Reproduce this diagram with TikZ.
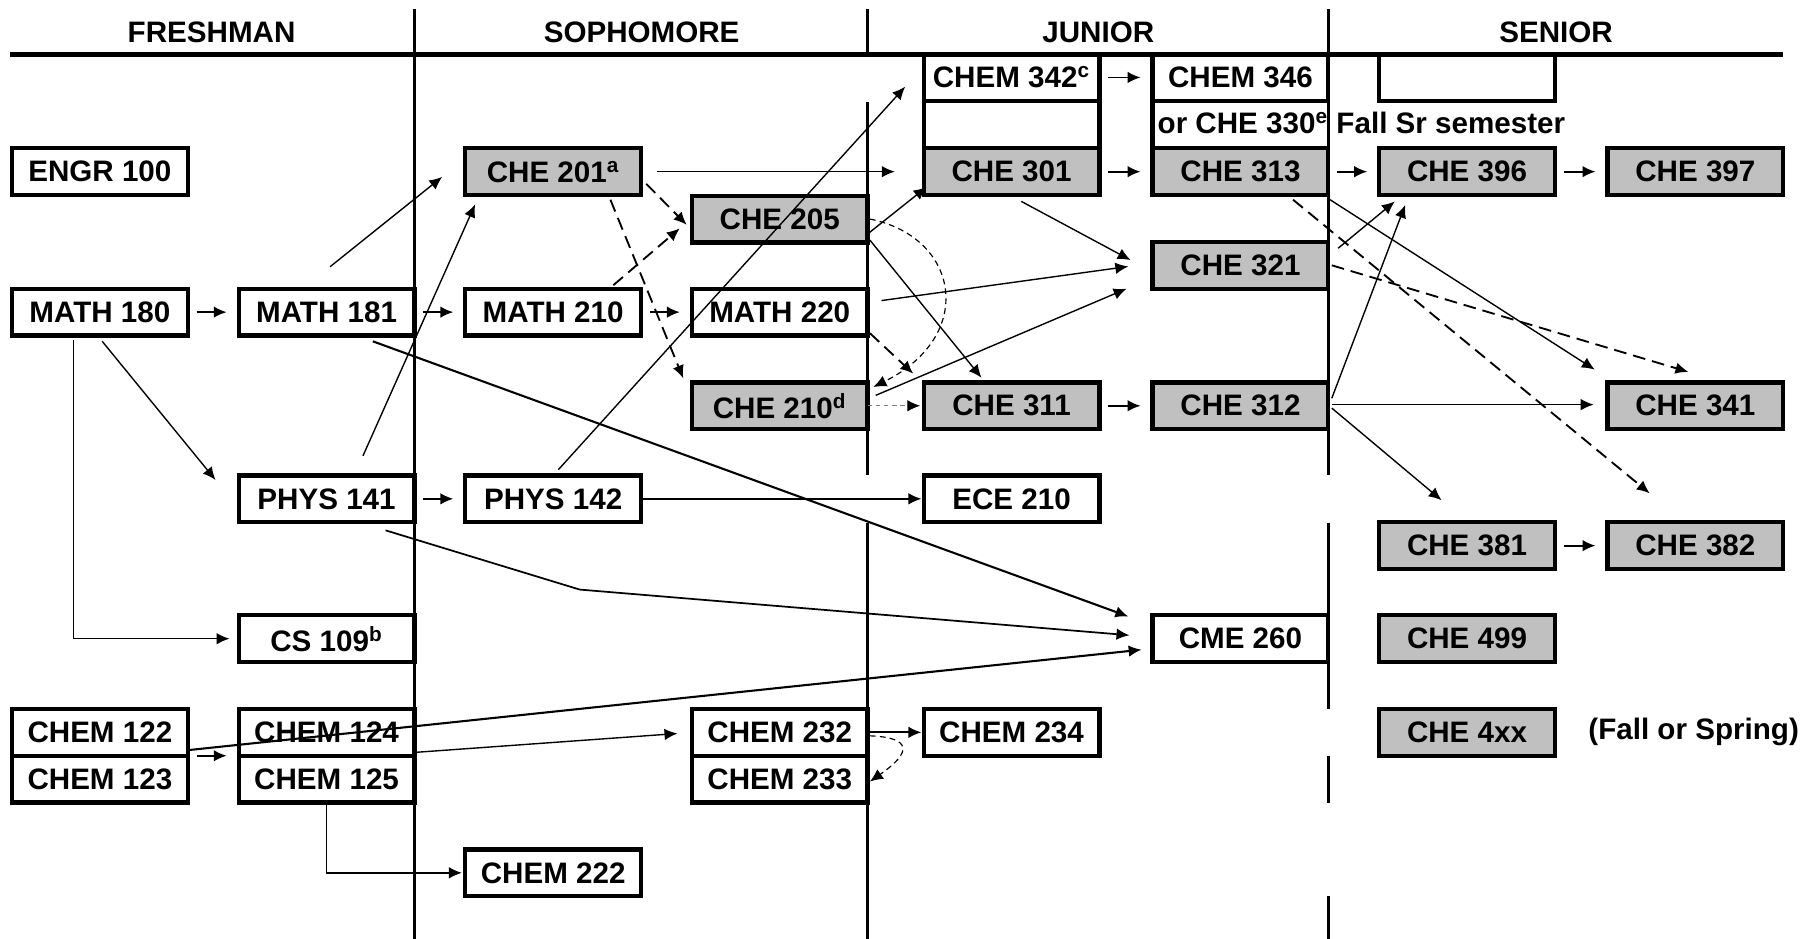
\documentclass[tikz,border=0pt]{standalone}
\usepackage{fontspec}
\setmainfont{Liberation Sans}
\usepackage{tikz}
\usetikzlibrary{arrows.meta}
\tikzset{>={Latex[length=5.6pt,width=5pt]}}
\definecolor{coursegray}{HTML}{C0C0C0}
\tikzset{
	course/.style={draw,line width=1.85pt,minimum width=76pt,minimum height=20.25pt,inner sep=0pt,outer sep=0pt,font=\fontsize{12.8}{15}\selectfont\bfseries},
	core/.style={course,fill=coursegray},
	yeartitle/.style={inner sep=0pt,font=\fontsize{12.8}{15}\selectfont\bfseries},
	prereq/.style={->,line width=0.6pt},
	heavyprereq/.style={->,line width=0.9pt},
	optprereq/.style={->,line width=0.8pt,dash pattern=on 5.5pt off 3pt},
	coreq/.style={->,line width=0.5pt,dash pattern=on 2.5pt off 1.8pt},
	nextcourse/.style={->,line width=0.8pt,shorten <=3.8pt,shorten >=5.2pt},
	divider/.style={line width=1.25pt},
}

\begin{document}
\begin{tikzpicture}[x=0.5pt,y=-0.5pt]
	\useasboundingbox (0,0) rectangle (1567.4,812.2);

	\node[yeartitle] (freshman) at (183,28) {FRESHMAN};
	\node[yeartitle] (sophomore) at (555,28) {SOPHOMORE};
	\node[yeartitle] (junior) at (950,28) {JUNIOR};
	\node[yeartitle] (senior) at (1346,28) {SENIOR};
	\draw[line width=1.9pt] (9,47) -- (1542,47);
	\draw[divider] (358.5,8) -- (358.5,812);
	\draw[divider] (750.5,8) -- (750.5,47) (750.5,88) -- (750.5,411) (750.5,452) -- (750.5,812);
	\draw[divider] (1149,8) -- (1149,411) (1149,452) -- (1149,613) (1149,654) -- (1149,695) (1149,775) -- (1149,812);

	\node[course] (engr100) at (86.4,148.5) {ENGR 100};
	\node[course] (math180) at (86.4,270) {MATH 180};
	\node[course] (math181) at (282.5,270) {MATH 181};
	\node[course] (math210) at (478.5,270) {MATH 210};
	\node[course] (math220) at (674.5,270) {MATH 220};
	\node[core] (che201) at (478.5,148.5) {CHE 201\textsuperscript{a}};
	\node[core] (che205) at (674.5,189.5) {CHE 205};
	\node[core] (che210) at (674.5,351) {CHE 210\textsuperscript{d}};
	\node[course] (phys141) at (282.5,431.5) {PHYS 141};
	\node[course] (phys142) at (478.5,431.5) {PHYS 142};
	\node[course] (cs109) at (282.5,552.5) {CS 109\textsuperscript{b}};
	\node[course] (chem122) at (86.4,633.5) {CHEM 122};
	\node[course] (chem123) at (86.4,674) {CHEM 123};
	\node[course] (chem124) at (282.5,633.5) {CHEM 124};
	\node[course] (chem125) at (282.5,674) {CHEM 125};
	\node[course] (chem232) at (674.5,633.5) {CHEM 232};
	\node[course] (chem233) at (674.5,674) {CHEM 233};
	\node[course] (chem222) at (478.5,755) {CHEM 222};

	\node[course] (chem342) at (875,67) {CHEM 342\textsuperscript{c}};
	\node[course] (jrblank) at (875,107.5) {};
	\node[core] (che301) at (875,148.5) {CHE 301};
	\node[course] (chem346) at (1073,67) {CHEM 346};
	\node[yeartitle,anchor=west] (che330) at (1001,106) {or CHE 330\textsuperscript{e} Fall Sr semester};
	\node[core] (che313) at (1073,148.5) {CHE 313};
	\draw[line width=1.85pt] (chem346.south west) -- (che313.north west);
	\node[core] (che321) at (1073,229.5) {CHE 321};
	\node[core] (che311) at (875,351) {CHE 311};
	\node[core] (che312) at (1073,351) {CHE 312};
	\node[course] (ece210) at (875,431.5) {ECE 210};
	\node[course] (cme260) at (1073,552.5) {CME 260};
	\node[course] (chem234) at (875,633.5) {CHEM 234};

	\node[course] (srblank) at (1269,67) {};
	\node[core] (che396) at (1269,148.5) {CHE 396};
	\node[core] (che397) at (1466.5,148.5) {CHE 397};
	\node[core] (che341) at (1466.5,351) {CHE 341};
	\node[core] (che381) at (1269,472) {CHE 381};
	\node[core] (che382) at (1466.5,472) {CHE 382};
	\node[core] (che499) at (1269,552.5) {CHE 499};
	\node[core] (che4xx) at (1269,633.5) {CHE 4xx};
	\node[yeartitle] (fallspring) at (1465,633.5) {(Fall or Spring)};

	\draw[nextcourse] (math180.east) -- (math181.west);
	\draw[nextcourse] (math181.east) -- (math210.west);
	\draw[nextcourse] (math210.east) -- (math220.west);
	\draw[nextcourse] (phys141.east) -- (phys142.west);
	\draw[nextcourse] (chem122.south east) -- (chem124.south west);
	\draw[nextcourse] (chem342.east) -- (chem346.west);
	\draw[nextcourse] (che301.east) -- (che313.west);
	\draw[nextcourse] (che313.east) -- (che396.west);
	\draw[nextcourse] (che396.east) -- (che397.west);
	\draw[nextcourse] (che311.east) -- (che312.west);
	\draw[nextcourse] (che381.east) -- (che382.west);

	\draw[prereq] ([shift={(2,5)}]math180.south) -- ([shift={(-20,4)}]phys141.north west);
	\draw[prereq] ([shift={(-23,4)}]math180.south) |- ([shift={(-8,0)}]cs109.west);
	\draw[prereq] ([shift={(3,-19)}]math181.north) -- ([shift={(-20,4.5)}]che201.west);
	\draw[prereq] ([shift={(31.5,-17)}]phys141.north) -- ([shift={(8.5,8)}]che201.south west);
	\draw[heavyprereq] ([shift={(40,5)}]math181.south) -- ([shift={(-21,1)}]cme260.north west);
	\coordinate (physbend) at (501.5,510);
	\draw[prereq,line width=0.75pt] ([shift={(-25,7)}]phys141.south east) -- (physbend) -- ([shift={(-20,-3)}]cme260.west);
	\draw[heavyprereq] ([shift={(1.5,-5)}]chem122.south east) -- ([shift={(-9.5,9.5)}]cme260.west);
	\draw[prereq] ([shift={(1.5,-3)}]chem124.south east) -- ([shift={(-12.5,1)}]chem232.west);
	\draw[prereq] (chem125.south) |- ([shift={(-3,0)}]chem222.west);
	\draw[prereq] ([shift={(4.5,-5)}]phys142.north) -- ([shift={(-16,8)}]chem342.west);
	\draw[prereq] ([shift={(2,0)}]phys142.east) -- ([shift={(-2,0)}]ece210.west);
	\draw[prereq,line width=0.75pt] ([shift={(2,0)}]chem232.east) -- ([shift={(-2,0)}]chem234.west);
	\draw[coreq] ([shift={(2,3)}]chem232.east) .. controls +(35.4,1.4) and +(37.4,-26) .. ([shift={(2,2)}]chem233.east);

	\draw[prereq] ([shift={(13.5,0)}]che201.east) -- ([shift={(-25,0)}]che301.west);
	\draw[optprereq] ([shift={(4.5,10.5)}]che201.east) -- ([shift={(-4.5,5)}]che205.west);
	\draw[optprereq] ([shift={(-26.5,4)}]che201.south east) -- ([shift={(-7.5,-3.5)}]che210.north west);
	\draw[optprereq] ([shift={(52,-3)}]math210.north) -- ([shift={(-10.5,8)}]che205.west);
	\draw[prereq] ([shift={(0.5,12.5)}]che205.east) -- ([shift={(2.5,-7)}]che301.south west);
	\draw[prereq] ([shift={(2,-2)}]che205.south east) -- ([shift={(-26,-4)}]che311.north);
	\draw[coreq] ([shift={(2,0)}]che205.east) .. controls +(77.5,15.5) and +(89.5,-44.5) .. ([shift={(5,4)}]che210.north east);
	\draw[optprereq] ([shift={(2,-2)}]math220.south east) -- ([shift={(-9,-7.5)}]che311.north west);
	\draw[prereq] ([shift={(12,-10)}]math220.east) -- ([shift={(-21,1)}]che321.west);
	\draw[prereq] ([shift={(7,-9)}]che210.east) -- ([shift={(-22.5,0)}]che321.south west);
	\draw[gray,line width=0.5pt,dash pattern=on 2pt off 1.5pt,-{Latex[length=5.6pt,width=5pt,color=black]}] (che210.east) -- ([shift={(-3,0)}]che311.west);
	\draw[prereq] ([shift={(8.5,5.5)}]che301.south) -- ([shift={(-19,-4.5)}]che321.west);

	\draw[prereq] ([shift={(8.5,5.5)}]che321.north east) -- ([shift={(13.5,5.5)}]che396.south west);
	\draw[prereq] ([shift={(3,-6.5)}]che312.east) -- ([shift={(22.5,8.5)}]che396.south west);
	\draw[prereq] ([shift={(3,-1)}]che312.east) -- ([shift={(-12,-1)}]che341.west);
	\draw[prereq] ([shift={(3,2)}]che312.east) -- ([shift={(-22,-19)}]che381.north);
	\draw[prereq] ([shift={(1.5,4)}]che313.south east) -- ([shift={(-11,-11)}]che341.north west);
	\draw[optprereq] ([shift={(45.5,4)}]che313.south) -- ([shift={(-39.5,-25)}]che382.north);
	\draw[optprereq] ([shift={(3,0)}]che321.east) -- ([shift={(-6,-9)}]che341.north);
\end{tikzpicture}
\end{document}
